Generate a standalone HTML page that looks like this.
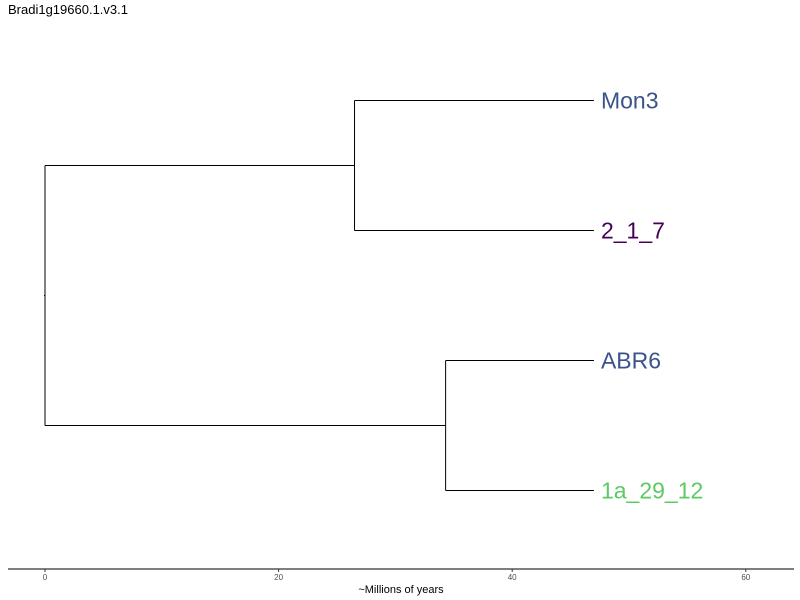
<!DOCTYPE html>
<html><head><meta charset="utf-8"><style>
body{margin:0;background:#fff;font-family:"Liberation Sans",sans-serif;}
svg{display:block}
</style></head><body>
<svg id="chart" width="800" height="600">
<text x="8" y="14" font-size="13" fill="#000">Bradi1g19660.1.v3.1</text>
<g id="axis"></g>
<g id="tree"></g>
<text x="401" y="593" font-size="11" text-anchor="middle" fill="#000">~Millions of years</text>
</svg>
<script>
const ticks=[0,20,40,60];
const tipNames=["Mon3","2_1_7","ABR6","1a_29_12"];
const tipColors=["#3b528b","#440154","#3b528b","#5ec962"];
const tipTime=47;
const cladeNodeTimes=[26.5,34.3];
const rootTime=0;
const X=t=>45+t*11.68;
const Y=i=>100.5+i*130;
const svg=document.getElementById('chart'),ax=document.getElementById('axis'),tr=document.getElementById('tree');
function el(p,tag,a){const e=document.createElementNS('http://www.w3.org/2000/svg',tag);for(const k in a)e.setAttribute(k,a[k]);p.appendChild(e);return e;}
const axl=el(ax,'line',{x1:8,x2:794,y1:569,y2:569,stroke:'#333','stroke-width':1.2});


ticks.forEach(t=>{
 const l=el(ax,'line',{x1:X(t),x2:X(t),y1:569,y2:572,stroke:'#333'});
 
 
 const tx=el(ax,'text',{x:X(t),y:580,'font-size':8,'text-anchor':'middle',fill:'#4d4d4d'});tx.textContent=t;
 
 
});
const ln=(x1,y1,x2,y2,n)=>{const l=el(tr,'line',{x1,y1,x2,y2,stroke:'#000','stroke-width':1});
 
 };
const cladeY=[];
[[0,1],[2,3]].forEach((c,k)=>{
 const nx=X(cladeNodeTimes[k]);
 ln(nx,Y(c[0]),nx,Y(c[1]),'clade-vertical');
 c.forEach(i=>{
  ln(nx,Y(i),X(tipTime),Y(i),'tip-branch');
  const t=el(tr,'text',{x:X(tipTime)+7,y:Y(i)+8,'font-size':23,fill:tipColors[i]});t.textContent=tipNames[i];
  
  
 });
 const my=(Y(c[0])+Y(c[1]))/2;cladeY.push(my);
 ln(X(rootTime),my,nx,my,'internal-branch');
});
ln(X(rootTime),cladeY[0],X(rootTime),cladeY[1],'root-vertical');
const rm=(cladeY[0]+cladeY[1])/2;
ln(X(rootTime)-1,rm,X(rootTime),rm,'root-stub');
</script>
</body></html>
